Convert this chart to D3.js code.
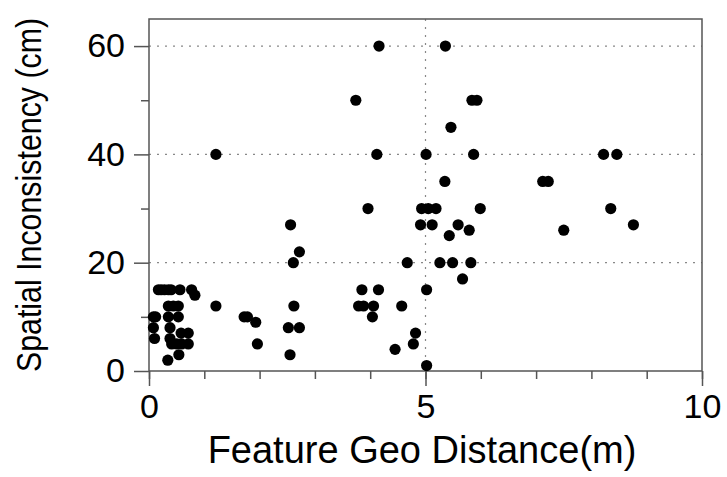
<!DOCTYPE html>
<html>
<head>
<meta charset="utf-8">
<script src="https://cdn.jsdelivr.net/npm/d3@7"></script>
<style>
  body { margin: 0; background: #fff; }
  svg { display: block; font-family: "Liberation Sans", Arial, sans-serif; }
</style>
</head>
<body>
<svg id="chart" width="727" height="477"></svg>
<script>
// geo distance (m) of each feature pair
const distX = [
  0.08, 0.12, 0.08, 0.10,
  0.17, 0.22, 0.28, 0.35, 0.40, 0.56, 0.77, 0.83,
  0.35, 0.44, 0.53,
  0.35, 0.53,
  0.38, 0.38,
  0.41, 0.50, 0.59, 0.71,
  0.58, 0.71,
  0.54, 0.34,
  1.21, 1.21,
  1.72, 1.78, 1.93, 1.96,
  2.52, 2.72, 2.55, 2.62, 2.61, 2.72, 2.56,
  3.74, 3.96, 4.12, 4.16,
  3.85, 4.15,
  3.79, 3.88, 4.06, 4.04,
  4.45, 4.57, 4.67, 4.78, 4.82,
  5.02, 5.02, 5.01,
  4.93, 5.05, 5.19,
  4.91, 5.12,
  5.26, 5.49, 5.82,
  5.36, 5.46, 5.35,
  5.43, 5.59, 5.79, 5.67,
  5.84, 5.93, 5.87, 5.99,
  7.12, 7.22, 7.50,
  8.22, 8.46, 8.35, 8.76
]
// spatial inconsistency (cm), same order
const inconsY = [
  10, 10, 8, 6,
  15, 15, 15, 15, 15, 15, 15, 14,
  12, 12, 12,
  10, 10,
  8, 6,
  5, 5, 5, 5,
  7, 7,
  3, 2,
  12, 40,
  10, 10, 9, 5,
  8, 8, 3, 12, 20, 22, 27,
  50, 30, 40, 60,
  15, 15,
  12, 12, 12, 10,
  4, 12, 20, 5, 7,
  1, 15, 40,
  30, 30, 30,
  27, 27,
  20, 20, 20,
  60, 45, 35,
  25, 27, 26, 17,
  50, 50, 40, 30,
  35, 35, 26,
  40, 40, 30, 27
]

const xMajor = [0, 5, 10]
const xMinor = d3.range(0, 11)
const yMajor = [0, 20, 40, 60]
const yMinor = [10, 30, 50]
const xGrid = [5]
const yGrid = [20, 40, 60]

const points = distX.map((d, i) => ({x: d, y: inconsY[i]}))

const W = 727, H = 477
const margin = {top: 19, right: 25, bottom: 106, left: 149}
const iw = W - margin.left - margin.right
const ih = H - margin.top - margin.bottom

const svg = d3.select('#chart')
const g = svg.append('g').attr('transform', `translate(${margin.left},${margin.top})`)

const x = d3.scaleLinear().domain([0, 10]).range([0, iw])
const y = d3.scaleLinear().domain([0, 65]).range([ih, 0])

const axisColor = '#555'

// grid lines (dotted)
g.selectAll('.hgrid').data(yGrid).enter().append('line')
  .attr('x1', 0).attr('x2', iw)
  .attr('y1', d => y(d)).attr('y2', d => y(d))
  .attr('stroke', '#888').attr('stroke-width', 1.2)
  .attr('stroke-dasharray', '2,6')
g.selectAll('.vgrid').data(xGrid).enter().append('line')
  .attr('y1', 0).attr('y2', ih)
  .attr('x1', d => x(d)).attr('x2', d => x(d))
  .attr('stroke', '#888').attr('stroke-width', 1.2)
  .attr('stroke-dasharray', '2,6')

// frame
g.append('rect').attr('width', iw).attr('height', ih)
  .attr('fill', 'none').attr('stroke', axisColor).attr('stroke-width', 1.5)

function styleAxis(sel) {
  sel.select('.domain').remove()
  sel.selectAll('line').attr('stroke', axisColor).attr('stroke-width', 1.5)
  sel.selectAll('text').attr('fill', '#000').style('font-size', '34px')
}

// x axis: minor then major
g.append('g').attr('transform', `translate(0,${ih})`)
  .call(d3.axisBottom(x).tickValues(xMinor).tickSize(8).tickFormat(''))
  .call(styleAxis)
g.append('g').attr('transform', `translate(0,${ih})`)
  .call(d3.axisBottom(x).tickValues(xMajor).tickSize(15).tickPadding(8).tickFormat(d3.format('d')))
  .call(styleAxis)

// y axis
g.append('g')
  .call(d3.axisLeft(y).tickValues(yMinor).tickSize(8).tickFormat(''))
  .call(styleAxis)
g.append('g')
  .call(d3.axisLeft(y).tickValues(yMajor).tickSize(15).tickPadding(9).tickFormat(d3.format('d')))
  .call(styleAxis)

// points
g.selectAll('circle').data(points).enter().append('circle')
  .attr('cx', d => x(d.x))
  .attr('cy', d => y(d.y))
  .attr('r', 5.6)
  .attr('fill', '#000')

// axis titles
svg.append('text')
  .attr('x', 422)
  .attr('y', 463)
  .attr('text-anchor', 'middle')
  .style('font-size', '38px')
  .text('Feature Geo Distance(m)')

// y title is narrower than its height suggests, squeeze it along its length
svg.append('text')
  .attr('transform', `translate(41,195) rotate(-90) scale(0.867,1)`)
  .attr('text-anchor', 'middle')
  .style('font-size', '35px')
  .text('Spatial Inconsistency (cm)')
</script>
</body>
</html>
